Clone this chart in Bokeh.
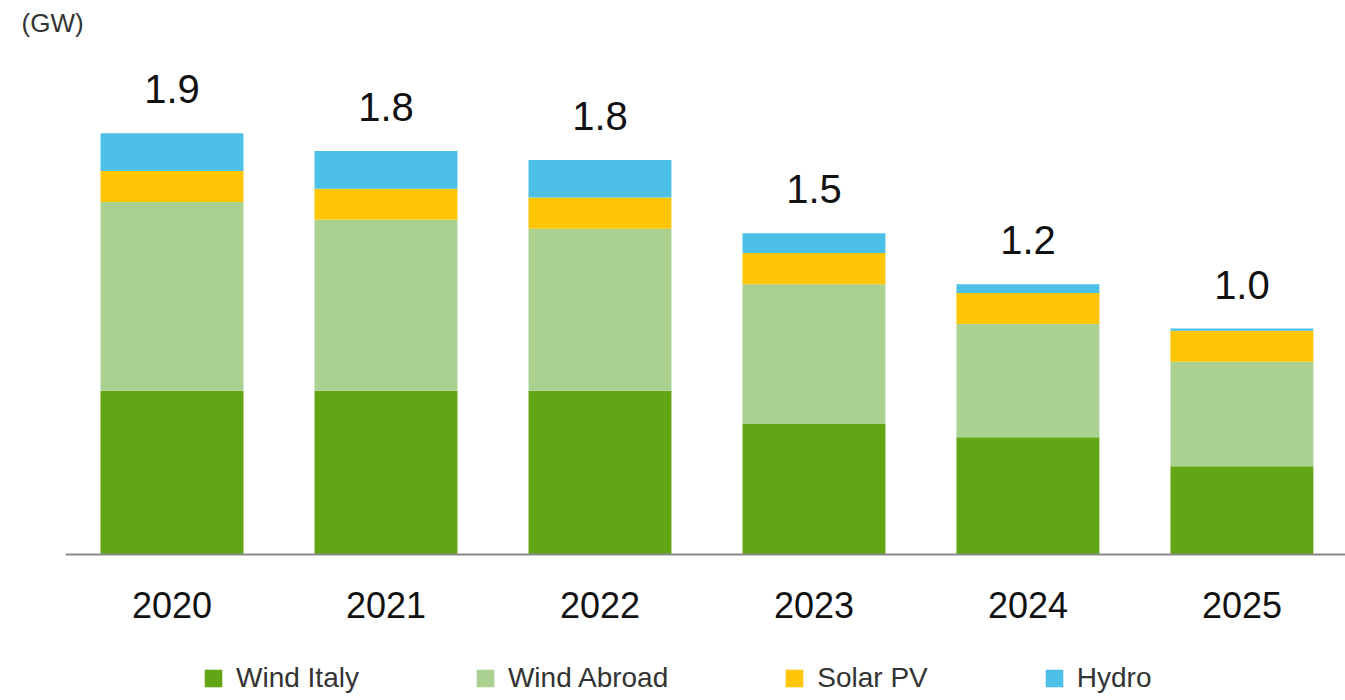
from bokeh.plotting import figure
from bokeh.models import ColumnDataSource, Legend, LegendItem, FixedTicker, Range1d
from bokeh.core.properties import value
from bokeh.embed import file_html
from bokeh.resources import INLINE

years = ["2020", "2021", "2022", "2023", "2024", "2025"]
wind_italy = [0.74, 0.74, 0.74, 0.59, 0.53, 0.40]
wind_abroad = [0.85, 0.77, 0.73, 0.63, 0.51, 0.47]
solar_pv = [0.14, 0.14, 0.14, 0.14, 0.14, 0.14]
hydro = [0.17, 0.17, 0.17, 0.09, 0.04, 0.01]
total_labels = ["1.9", "1.8", "1.8", "1.5", "1.2", "1.0"]
series = ["Wind Italy", "Wind Abroad", "Solar PV", "Hydro"]

bar_colors = ["#62A515", "#AAD18F", "#FFC605", "#4DC0E8"]

xs = list(range(len(years)))
totals = [a + b + c + d for a, b, c, d in zip(wind_italy, wind_abroad, solar_pv, hydro)]

src = ColumnDataSource(dict(x=xs, wi=wind_italy, wa=wind_abroad, sp=solar_pv, hy=hydro,
                            tot=totals, lab=total_labels))

p = figure(width=1345, height=700, output_backend="svg", toolbar_location=None,
           x_range=Range1d(-0.4977, 5.484), y_range=Range1d(-0.656, 2.309),
           min_border_left=65, min_border_right=0, min_border_top=40, min_border_bottom=0)

rs = p.vbar_stack(["wi", "wa", "sp", "hy"], x="x", width=0.668, color=bar_colors,
                  line_color=None, source=src)

p.text(x="x", y="tot", text="lab", source=src, text_align="center",
       text_baseline="alphabetic", y_offset=-44, text_font=value("Liberation Sans"),
       text_font_size="40px", text_color="#111111")

items = [LegendItem(label=name, renderers=[r]) for name, r in zip(series, rs)]
legend = Legend(items=items, orientation="horizontal", location=(137, 6),
                glyph_width=22, glyph_height=22, label_standoff=12, spacing=115,
                label_text_font_size="28px", label_text_font="Liberation Sans",
                label_text_color="#333333", border_line_color=None,
                background_fill_alpha=0, padding=0, margin=0)
p.add_layout(legend)

p.xaxis.fixed_location = 0
p.xaxis.ticker = FixedTicker(ticks=xs)
p.xaxis.major_label_overrides = {i: y for i, y in zip(xs, years)}
p.xaxis.major_label_text_font = "Liberation Sans"
p.xaxis.major_label_text_font_size = "36px"
p.xaxis.major_label_text_color = "#111111"
p.xaxis.major_label_standoff = 31
p.xaxis.major_tick_line_color = None
p.xaxis.minor_tick_line_color = None
p.xaxis.axis_line_color = "#8A8A8A"
p.xaxis.axis_line_width = 2
p.yaxis.visible = False
p.xgrid.visible = False
p.ygrid.visible = False
p.outline_line_color = None

p.title.text = "(GW)"
p.title.align = "left"
p.title.offset = -44
p.title.text_font = "Liberation Sans"
p.title.text_font_size = "26px"
p.title.text_font_style = "normal"
p.title.text_color = "#333333"

open("out.html", "w").write(file_html(p, INLINE))
